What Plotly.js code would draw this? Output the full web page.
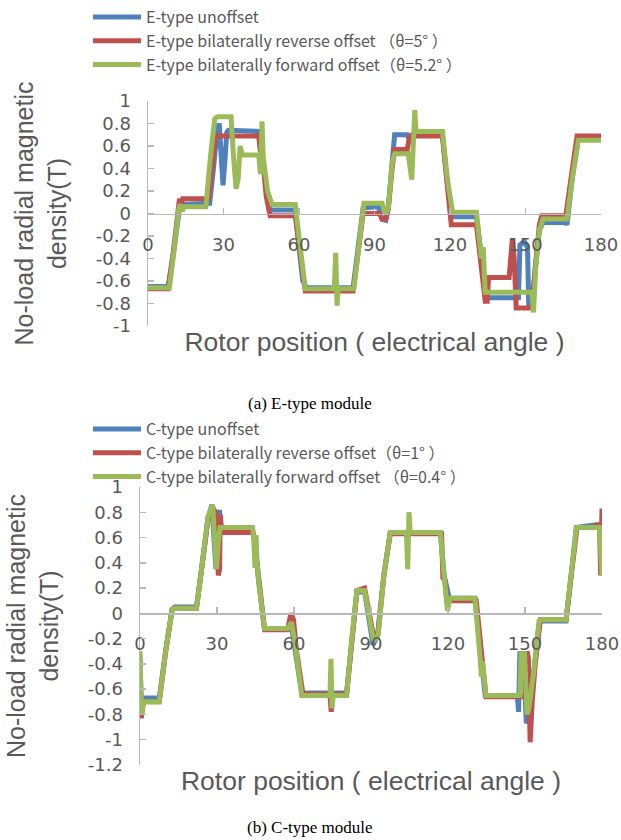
<!DOCTYPE html>
<html><head><meta charset="utf-8">
<script src="https://cdn.plot.ly/plotly-3.0.1.min.js"></script>
<style>html,body{margin:0;padding:0;background:#fff}#chart{width:621px;height:840px}</style>
</head><body><div id="chart"></div>
<script>
// ---------- data ----------
const namesE = ['E-type unoffset', 'E-type bilaterally reverse offset （θ=5° ）', 'E-type bilaterally forward offset（θ=5.2° ）'];
const namesC = ['C-type unoffset', 'C-type bilaterally reverse offset（θ=1° ）', 'C-type bilaterally forward offset （θ=0.4° ）'];

const eUnoffsetX = [0, 8, 9.5, 11, 12.5, 14, 24.5, 26, 27.5, 28.3, 29, 29.8, 30.5, 31.3, 32, 44, 44.8, 46.5, 48.5, 58.5, 60, 61.5, 63, 81.5, 83.5, 85.5, 91.5, 93, 94.5, 95.5, 97, 98, 103, 104, 105, 117, 118.5, 120.5, 130.5, 132.5, 134.5, 147.2, 147.8, 149.5, 150.8, 151.3, 152.5, 154, 155.5, 157, 166, 166.5, 168.5, 171, 180];
const eUnoffsetY = [-0.65, -0.65, -0.45, -0.2, 0.04, 0.08, 0.09, 0.4, 0.74, 0.8, 0.55, 0.25, 0.45, 0.72, 0.74, 0.73, 0.62, 0.3, 0.03, 0.03, -0.3, -0.6, -0.66, -0.66, -0.3, 0.05, 0.06, -0.05, -0.06, 0.05, 0.45, 0.7, 0.7, 0.65, 0.7, 0.7, 0.35, -0.03, -0.03, -0.4, -0.75, -0.75, -0.28, -0.25, -0.3, -0.82, -0.82, -0.45, -0.15, -0.08, -0.08, -0.1, 0.3, 0.68, 0.68];

const eReverseX = [0, 8, 10, 12, 12.5, 13.2, 13.8, 24, 25.5, 26.8, 44, 44.6, 45.3, 47, 48.5, 58.5, 60.5, 62.5, 81.5, 83.5, 85.5, 92, 93, 94.5, 95.5, 97, 98, 103, 104, 117, 118.5, 120.5, 130.5, 133, 134, 134.8, 135.3, 143.5, 144.2, 144.8, 145.5, 146.3, 152.5, 154, 155.5, 156.5, 166, 168, 170.5, 180];
const eReverseY = [-0.67, -0.67, -0.35, 0.1, 0.13, 0.08, 0.13, 0.13, 0.4, 0.69, 0.69, 0.56, 0.55, 0.15, -0.02, -0.02, -0.35, -0.69, -0.69, -0.3, 0.0, 0.0, -0.05, -0.05, 0.05, 0.4, 0.57, 0.57, 0.69, 0.69, 0.3, -0.1, -0.1, -0.6, -0.78, -0.78, -0.57, -0.57, -0.35, -0.22, -0.4, -0.84, -0.84, -0.5, -0.1, -0.02, -0.02, 0.3, 0.69, 0.69];

const eForwardX = [0, 8.5, 10.5, 12.3, 13, 13.6, 14.3, 23, 24.8, 26.5, 27.5, 33, 34, 35, 35.8, 36.6, 37.5, 44, 44.7, 45.3, 45.8, 47.5, 49.3, 58.5, 60.5, 62.5, 74, 74.6, 75.1, 75.6, 81.8, 83.8, 85.8, 93, 94.5, 95.5, 97, 98, 103.4, 104.8, 105.5, 106, 106.5, 117, 119, 121, 130.5, 132.5, 133.2, 134, 152.5, 153.2, 154, 155.5, 157, 166.5, 168.5, 171, 180];
const eForwardY = [-0.66, -0.66, -0.3, 0.05, 0.08, 0.02, 0.06, 0.06, 0.5, 0.84, 0.86, 0.86, 0.5, 0.22, 0.3, 0.6, 0.52, 0.52, 0.35, 0.82, 0.5, 0.2, 0.08, 0.08, -0.3, -0.67, -0.67, -0.35, -0.82, -0.67, -0.67, -0.3, 0.09, 0.09, 0.0, 0.05, 0.45, 0.53, 0.53, 0.3, 0.6, 0.92, 0.73, 0.73, 0.3, 0.01, 0.01, -0.4, -0.3, -0.7, -0.7, -0.88, -0.5, -0.15, -0.05, -0.05, 0.3, 0.65, 0.65];

const cUnoffsetX = [0, 0.5, 1.2, 7.5, 10, 12.5, 13.5, 22, 24, 26.5, 28, 29, 29.6, 30.2, 31, 31.6, 43.5, 44.5, 46, 48.5, 57.5, 59, 60.5, 63, 80.5, 82.5, 84.5, 87.5, 89.5, 90.8, 92.5, 95, 97.5, 117, 118.5, 119.5, 120.5, 130.5, 132.5, 134.5, 147, 147.5, 148, 149.5, 150.5, 151.5, 153.5, 155.5, 156.5, 166, 168, 170, 177, 180];
const cUnoffsetY = [-0.35, -0.75, -0.67, -0.67, -0.3, 0.03, 0.05, 0.05, 0.35, 0.75, 0.86, 0.5, 0.35, 0.8, 0.8, 0.68, 0.68, 0.6, 0.3, -0.12, -0.12, -0.1, -0.3, -0.63, -0.63, -0.2, 0.17, 0.17, -0.1, -0.25, -0.18, 0.3, 0.64, 0.64, 0.3, 0.2, 0.12, 0.12, -0.3, -0.65, -0.65, -0.78, -0.32, -0.32, -0.87, -0.8, -0.45, -0.08, -0.06, -0.06, 0.3, 0.68, 0.7, 0.7];

const cReverseX = [0, 0.5, 1.3, 7.5, 10, 12.5, 13.5, 22, 24, 26.5, 28.5, 29.5, 30.5, 31, 31.3, 31.8, 44, 44.8, 46, 48.5, 57.5, 58.8, 59.8, 61, 63.5, 74, 74.5, 75, 80.5, 82.5, 84.5, 87.5, 89.5, 91, 92.8, 95, 97.5, 117.5, 118, 118.8, 119.5, 120.5, 131, 133, 134.8, 150, 150.8, 151.3, 152, 152.8, 154, 156, 166, 168, 170.3, 177, 177.8, 179, 179.5, 180];
const cReverseY = [-0.45, -0.83, -0.7, -0.7, -0.3, 0.03, 0.04, 0.04, 0.35, 0.75, 0.83, 0.8, 0.3, 0.35, 0.78, 0.64, 0.64, 0.55, 0.3, -0.13, -0.13, 0.0, -0.05, -0.3, -0.64, -0.64, -0.78, -0.64, -0.64, -0.2, 0.18, 0.2, -0.05, -0.18, -0.15, 0.3, 0.63, 0.63, 0.28, 0.26, 0.1, 0.1, 0.1, -0.3, -0.66, -0.66, -0.3, -0.35, -1.02, -0.7, -0.4, -0.05, -0.05, 0.3, 0.68, 0.68, 0.7, 0.7, 0.3, 0.83];

const cForwardX = [0, 0.6, 1.5, 7.5, 10, 12.5, 13.5, 22, 24, 26.5, 28.3, 29.2, 29.8, 30.5, 31.2, 43.8, 44.3, 44.8, 45.2, 45.6, 46.5, 48.5, 57.5, 59, 60.5, 63, 74, 74.4, 74.8, 75.3, 80.5, 82.5, 84.5, 87.5, 89.5, 91, 92.8, 95, 97.5, 103.8, 104.3, 104.8, 105.3, 117, 118.5, 119.8, 120.8, 130.5, 132.5, 133, 133.4, 134.8, 148, 148.5, 149.8, 150.8, 151.5, 153.5, 155.5, 156.5, 166, 168, 170, 179, 180];
const cForwardY = [-0.3, -0.8, -0.7, -0.7, -0.3, 0.03, 0.04, 0.04, 0.35, 0.77, 0.86, 0.6, 0.35, 0.55, 0.68, 0.68, 0.6, 0.36, 0.62, 0.4, 0.2, -0.12, -0.12, -0.07, -0.25, -0.65, -0.65, -0.36, -0.75, -0.65, -0.65, -0.2, 0.18, 0.18, -0.05, -0.22, -0.17, 0.3, 0.64, 0.64, 0.35, 0.8, 0.64, 0.64, 0.3, 0.02, 0.12, 0.12, -0.35, -0.5, -0.38, -0.65, -0.65, -0.32, -0.32, -0.8, -0.75, -0.45, -0.06, -0.05, -0.05, 0.3, 0.68, 0.68, 0.3];

const xTickVals = [0, 30, 60, 90, 120, 150, 180];
const xTickText = ['0', '30', '60', '90', '120', '150', '180'];
const yTickValsE = [1, 0.8, 0.6, 0.4, 0.2, 0, -0.2, -0.4, -0.6, -0.8, -1];
const yTickTextE = ['1', '0.8', '0.6', '0.4', '0.2', '0', '-0.2', '-0.4', '-0.6', '-0.8', '-1'];
const yTickValsC = [1, 0.8, 0.6, 0.4, 0.2, 0, -0.2, -0.4, -0.6, -0.8, -1, -1.2];
const yTickTextC = ['1', '0.8', '0.6', '0.4', '0.2', '0', '-0.2', '-0.4', '-0.6', '-0.8', '-1', '-1.2'];

const xTitle = 'Rotor position ( electrical angle )';
const yTitle = 'No-load radial magnetic<br>density(T)';
const captionA = '(a) E-type module';
const captionB = '(b) C-type module';

// ---------- styling / layout ----------
const W = 621, H = 840;
const colors = ['#4F81BD', '#C0504D', '#9BBB59'];
const FONT = 'Liberation Sans, Arial, Noto Sans CJK SC, sans-serif';
const TICKFONT = 'DejaVu Sans, Liberation Sans, sans-serif';
const LEGFONT = 'Noto Sans CJK SC, Noto Sans, sans-serif';
const gray = '#595959';
const axisGray = '#b8b8b8';
const fx = p => p / W;
const fy = p => 1 - p / H;

const boxE = {l: 148, r: 601, t: 101, b: 326, ymin: -1, ymax: 1};
const boxC = {l: 140, r: 602, t: 487, b: 765, ymin: -1.2, ymax: 1};
const zeroPos = bx => fy(bx.b) + (0 - bx.ymin) / (bx.ymax - bx.ymin) * (fy(bx.t) - fy(bx.b));

function mk(x, y, i, name, xa, ya, lg) {
  return {x: x, y: y, type: 'scatter', mode: 'lines', name: name,
    line: {color: colors[i], width: 5}, xaxis: xa, yaxis: ya,
    legend: lg, legendgroup: lg + i, hoverinfo: 'skip'};
}
const traces = [
  mk(eUnoffsetX, eUnoffsetY, 0, namesE[0], 'x', 'y', 'legend'),
  mk(eReverseX, eReverseY, 1, namesE[1], 'x', 'y', 'legend'),
  mk(eForwardX, eForwardY, 2, namesE[2], 'x', 'y', 'legend'),
  mk(cUnoffsetX, cUnoffsetY, 0, namesC[0], 'x2', 'y2', 'legend2'),
  mk(cReverseX, cReverseY, 1, namesC[1], 'x2', 'y2', 'legend2'),
  mk(cForwardX, cForwardY, 2, namesC[2], 'x2', 'y2', 'legend2')
];

function xAxis(bx, standoff) {
  return {domain: [fx(bx.l), fx(bx.r)], range: [0, 180], anchor: 'free', position: zeroPos(bx),
    showline: true, linecolor: axisGray, linewidth: 1.5, ticks: 'inside', ticklen: 6, tickcolor: axisGray,
    tickwidth: 1.5, tickmode: 'array', tickvals: xTickVals, ticktext: xTickText,
    tickfont: {family: TICKFONT, size: 18, color: gray}, ticklabelstandoff: 14,
    showgrid: false, zeroline: false, fixedrange: true,
    title: {text: xTitle, font: {family: FONT, size: 26.5, color: gray}, standoff: standoff}};
}
function yAxis(bx, xa, tv, tt) {
  return {domain: [fy(bx.b), fy(bx.t)], range: [bx.ymin, bx.ymax], anchor: xa,
    showline: true, linecolor: axisGray, linewidth: 1.5, ticks: 'inside', ticklen: 6, tickcolor: axisGray,
    tickwidth: 1.5, tickmode: 'array', tickvals: tv, ticktext: tt,
    tickfont: {family: TICKFONT, size: 18, color: gray}, ticklabelstandoff: 12,
    showgrid: false, zeroline: false, fixedrange: true,
    title: {text: yTitle, font: {family: FONT, size: 25, color: gray}, standoff: 22}};
}
function legendAt(px, py) {
  return {x: fx(px), y: fy(py), xanchor: 'left', yanchor: 'top', bgcolor: 'rgba(0,0,0,0)',
    font: {family: LEGFONT, size: 16, color: gray}, tracegroupgap: 3, itemwidth: 48, traceorder: 'normal'};
}

const layout = {
  width: W, height: H, margin: {l: 0, r: 0, t: 0, b: 0},
  paper_bgcolor: '#fff', plot_bgcolor: '#fff', showlegend: true,
  xaxis: xAxis(boxE, 79),
  yaxis: yAxis(boxE, 'x', yTickValsE, yTickTextE),
  xaxis2: xAxis(boxC, 118),
  yaxis2: yAxis(boxC, 'x2', yTickValsC, yTickTextC),
  legend: legendAt(88, 0),
  legend2: legendAt(88, 412),
  annotations: [
    {text: captionA, xref: 'paper', yref: 'paper', x: fx(310), y: fy(403), xanchor: 'center', yanchor: 'middle',
      showarrow: false, font: {family: 'Liberation Serif, Times New Roman, serif', size: 17, color: '#000'}},
    {text: captionB, xref: 'paper', yref: 'paper', x: fx(310), y: fy(827), xanchor: 'center', yanchor: 'middle',
      showarrow: false, font: {family: 'Liberation Serif, Times New Roman, serif', size: 17, color: '#000'}}
  ]
};
Plotly.newPlot('chart', traces, layout, {staticPlot: true, displayModeBar: false});
</script></body></html>
